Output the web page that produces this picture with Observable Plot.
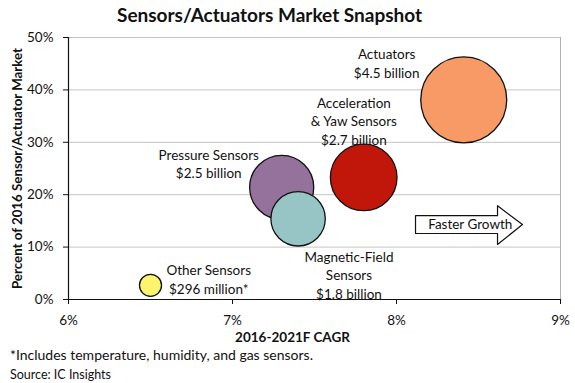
<!DOCTYPE html>
<html>
<head>
<meta charset="utf-8">
<script src="https://cdn.jsdelivr.net/npm/d3@7"></script>
<script src="https://cdn.jsdelivr.net/npm/@observablehq/plot@0.6"></script>
<style>
  body { margin: 0; background: #fff; font-family: Lato, "Open Sans", sans-serif; }
  #wrap { width: 575px; height: 383px; position: relative; overflow: hidden; }
  #title { height: 28px; line-height: 30px; font-size: 19px; font-weight: bold; padding-left: 117px; color: #111; white-space: nowrap; }
  .note { position: absolute; left: 10px; color: #111; white-space: nowrap; }
  svg { display: block; }
</style>
</head>
<body>
<div id="wrap">
  <div id="title">Sensors/Actuators Market Snapshot</div>
  <div id="chart"></div>
  <div class="note" style="top:346px;font-size:14px;">*Includes temperature, humidity, and gas sensors.</div>
  <div class="note" style="top:367px;font-size:12.5px;">Source: IC Insights</div>
</div>
<script>
// Data
const segments = ["Actuators", "Acceleration & Yaw Sensors", "Pressure Sensors", "Magnetic-Field Sensors", "Other Sensors"];
const cagr = [8.41, 7.80, 7.30, 7.40, 6.50];           // 2016-2021F CAGR (%)
const share = [38.1, 23.3, 21.4, 15.4, 2.7];           // % of 2016 sensor/actuator market
const revenue = [4.5, 2.7, 2.5, 1.8, 0.296];           // $ billion
const colors = ["#F79A65", "#C0170A", "#95729B", "#97C4C5", "#FAF56C"];
const labelText = [
  "Actuators\n$4.5 billion",
  "Acceleration\n& Yaw Sensors\n$2.7 billion",
  "Pressure Sensors\n$2.5 billion",
  "Magnetic-Field\nSensors\n$1.8 billion",
  "Other Sensors\n$296 million*"
];
const labelX = [7.94, 7.74, 6.855, 7.71, 6.855];
const labelY = [45.2, 34.2, 26.05, 4.8, 4.0];
const xTicks = [6, 7, 8, 9];
const yTicks = [0, 10, 20, 30, 40, 50];
// "Faster Growth" arrow outline (data units)
const arrowX = [8.116, 8.616, 8.616, 8.768, 8.616, 8.616, 8.116, 8.116];
const arrowY = [16.0, 16.0, 17.9, 14.3, 10.5, 12.6, 12.6, 16.0];

const bubbles = segments.map((s, i) => ({segment: s, x: cagr[i], y: share[i], r: revenue[i], color: colors[i]}));
const labels = labelText.map((t, i) => ({text: t, x: labelX[i], y: labelY[i]}));
const arrow = arrowX.map((x, i) => ({x, y: arrowY[i]}));

const chart = Plot.plot({
  width: 575,
  height: 317,
  marginLeft: 68,
  marginRight: 15,
  marginTop: 9,
  marginBottom: 46,
  style: {fontFamily: "Lato, 'Open Sans', sans-serif", fontSize: "13.5px", color: "#111"},
  x: {domain: [6, 9]},
  y: {domain: [0, 50]},
  r: {type: "sqrt", domain: [0, 4.5], range: [0, 43]},
  marks: [
    Plot.gridY(yTicks, {stroke: "#c4c4c4", strokeOpacity: 1}),
    Plot.ruleX([9], {stroke: "#b0b0b0"}),
    Plot.axisY({ticks: yTicks, tickFormat: d => d + "%", tickSize: 5, tickPadding: 10, label: null, stroke: "#111"}),
    Plot.axisX({ticks: xTicks, tickFormat: d => d + "%", tickSize: 5, tickPadding: 11, label: null, stroke: "#111"}),
    Plot.ruleX([6], {stroke: "#111", strokeWidth: 1.2}),
    Plot.ruleY([0], {stroke: "#111", strokeWidth: 1.2}),
    Plot.dot(bubbles, {x: "x", y: "y", r: "r", fill: "color", stroke: "#111", strokeWidth: 1.3, fillOpacity: 1}),
    Plot.text(labels, {x: "x", y: "y", text: "text", lineHeight: 1.36, fontSize: 13.5, fill: "#111"}),
    Plot.line(arrow, {x: "x", y: "y", fill: "white", stroke: "#111", strokeWidth: 1.2, curve: "linear"}),
    Plot.text(["Faster Growth"], {x: 8.45, y: 14.3, fontSize: 13.5, fill: "#111"}),
    Plot.text(["Percent of 2016 Sensor/Actuator Market"], {frameAnchor: "left", textAnchor: "middle", lineAnchor: "middle", rotate: -90, dx: -51, fontWeight: "bold", fontSize: 13.3, fill: "#111"}),
    Plot.text(["2016-2021F CAGR"], {frameAnchor: "bottom", textAnchor: "middle", lineAnchor: "middle", dx: -22, dy: 38, fontWeight: "bold", fontSize: 13.5, fill: "#111"})
  ]
});
document.getElementById("chart").appendChild(chart);
</script>
</body>
</html>
